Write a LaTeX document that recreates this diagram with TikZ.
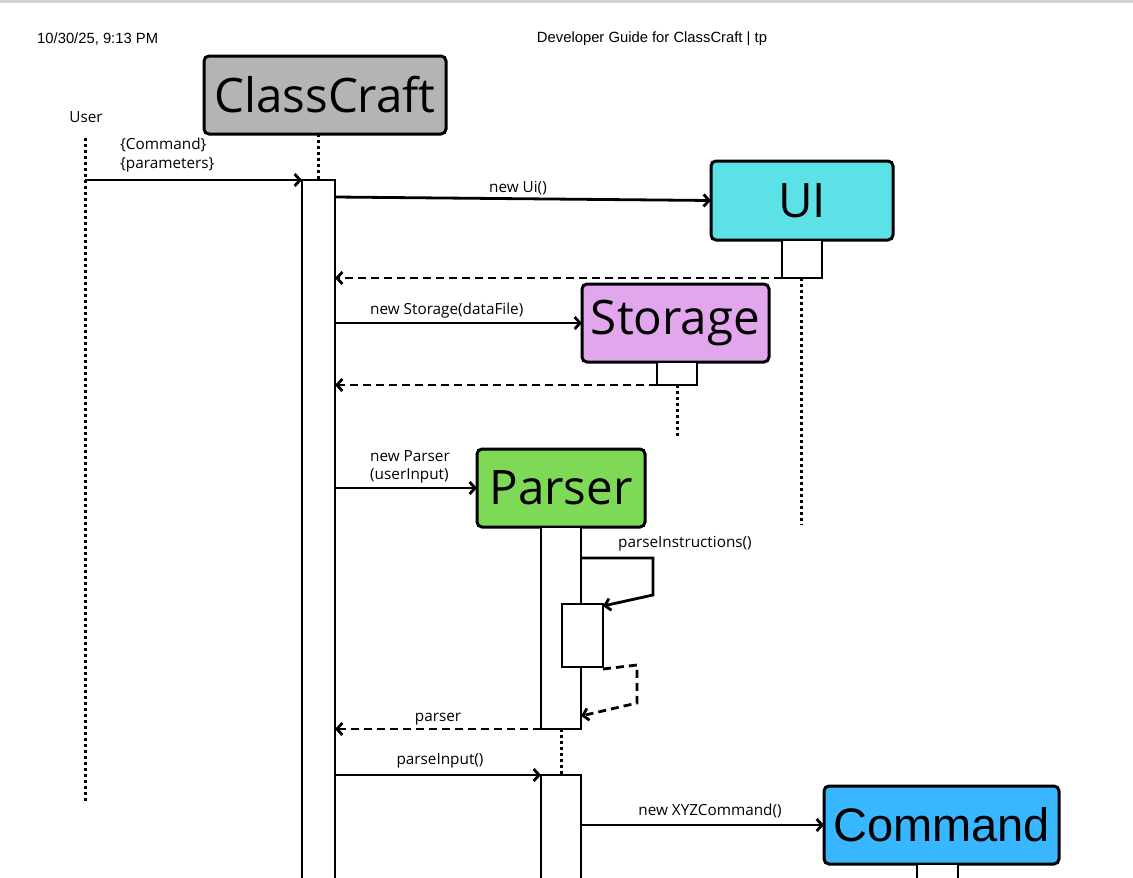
\documentclass[tikz,border=0pt]{standalone}
\usepackage{fontspec}
\setmainfont{Open Sans}
\newfontfamily\hdrfont{Liberation Sans}
\usetikzlibrary{arrows.meta}
\definecolor{ccgray}{HTML}{B4B4B4}
\definecolor{uicyan}{HTML}{5CE1E6}
\definecolor{stpurple}{HTML}{E2A6EC}
\definecolor{pagreen}{HTML}{7ED957}
\definecolor{cmblue}{HTML}{38B6FF}
\definecolor{topband}{HTML}{D4D4D4}
\begin{document}
\begin{tikzpicture}[x=1pt,y=-1pt,
  lbl/.style={font=\fontsize{15.3}{18}\selectfont, inner sep=0},
  hdr/.style={font=\hdrfont\fontsize{14.8}{17}\selectfont, inner sep=0},
  obj/.style={draw, line width=3pt, rounded corners=5pt, inner sep=0, outer sep=0, font=\fontsize{47.5}{52}\selectfont},
  act/.style={draw, fill=white, line width=2.2pt, inner sep=0, outer sep=0},
  msg/.style={line width=2.8pt, -{Straight Barb[length=5.5pt,width=12pt]}},
  ret/.style={msg, dash pattern=on 8pt off 5pt},
  life/.style={line width=3pt, dash pattern=on 3pt off 3pt}
]
\useasboundingbox (0,0) rectangle (1133,878);
\clip (0,0) rectangle (1133,878);
\fill[topband] (0,0) rectangle (1133,3);

% header
\node[hdr, anchor=west] (date) at (37,39) {10/30/25, 9:13 PM};
\node[hdr] (title) at (652,39) {Developer Guide for ClassCraft | tp};

% objects
\node[obj, fill=ccgray, minimum width=242, minimum height=78] (cc) at (325,95) {ClassCraft};
\node[obj, fill=uicyan, minimum width=182, minimum height=79] (ui) at (802,200.5) {UI};
\node[obj, fill=stpurple, minimum width=187, minimum height=78] (st) at (675.5,323) {Storage};
\node[obj, fill=pagreen, minimum width=168, minimum height=78] (pa) at (561,488) {Parser};
\node[obj, fill=cmblue, minimum width=235, minimum height=78, font=\hdrfont\fontsize{47}{50}\selectfont] (cm) at (941.5,825) {Command};

% user
\node[lbl] (user) at (86,117) {User};
\coordinate (userTop) at (85,138);
\coordinate (userBot) at (85,803);
\draw[life] (userTop) -- (userBot);

% activations
\node[act, minimum width=33, minimum height=710] (accA) at (318.5,535) {};
\node[act, minimum width=40, minimum height=38] (uiA) at (802,259) {};
\node[act, minimum width=40, minimum height=23] (stA) at (677,373.5) {};
\node[act, minimum width=40, minimum height=202] (paA) at (561,628) {};
\node[act, minimum width=41, minimum height=63] (paB) at (582.5,635.5) {};
\node[act, minimum width=40, minimum height=115] (paC) at (561,832.5) {};
\node[act, minimum width=41, minimum height=26] (cmA) at (937.5,877) {};

% lifelines
\coordinate (uiEnd) at (801,525);
\coordinate (stEnd) at (677,437);
\draw[life] (cc.south -| 318,0) -- (accA.north -| 318,0);
\draw[life] (uiA.south -| uiEnd) -- (uiEnd);
\draw[life] (stA.south) -- (stEnd);
\draw[life] (paA.south) -- (paC.north);

% messages
\draw[msg] (userTop |- accA.north) -- (accA.north west);
\node[lbl, anchor=west] (m1a) at (120,145) {\{Command\}};
\node[lbl, anchor=west] (m1b) at (120,165) {\{parameters\}};

\draw[msg] (accA.east |- 0,197) -- (ui.west);
\node[lbl] (m2) at (518,188) {new Ui()};

\draw[ret] (uiA.south west) -- (accA.east |- uiA.south);

\draw[msg] (accA.east |- st.west) -- (st.west);
\node[lbl, anchor=west] (m3) at (370,311) {new Storage(dataFile)};

\draw[ret] ([xshift=-7pt]stA.south) -- (accA.east |- stA.south);

\draw[msg] (accA.east |- pa.west) -- (pa.west);
\node[lbl, anchor=west] (m4a) at (370,456) {new Parser};
\node[lbl, anchor=west] (m4b) at (370,476) {(userInput)};

\coordinate (s1) at (653,558);
\coordinate (s2) at (653,595);
\draw[msg] (paA.east |- s1) -- (s1) -- (s2) -- ([yshift=-2pt]paB.north east);
\node[lbl, anchor=west] (m5) at (618,544) {parseInstructions()};

\coordinate (r1) at (637,665);
\coordinate (r2) at (637,703);
\draw[ret] ([yshift=-2pt]paB.south east) -- (r1) -- (r2) -- (paA.east |- 0,716);

\draw[ret] (paA.south west) -- (accA.east |- paA.south);
\node[lbl] (m6) at (438,719) {parser};

\draw[msg] (accA.east |- paC.north) -- (paC.north west);
\node[lbl] (m7) at (440,761) {parseInput()};

\draw[msg] (paC.east |- cm.west) -- (cm.west);
\node[lbl] (m8) at (710,811) {new XYZCommand()};
\end{tikzpicture}
\end{document}
